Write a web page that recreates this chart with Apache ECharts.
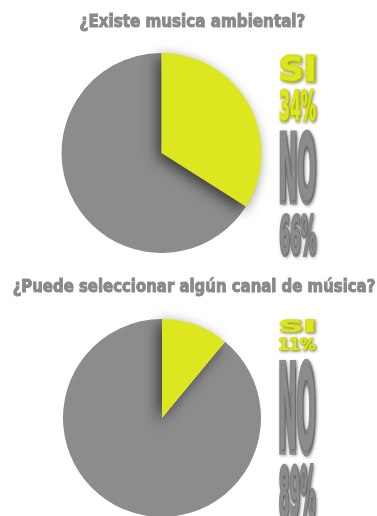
<!DOCTYPE html>
<html>
<head>
<meta charset="utf-8">
<script src="https://cdn.jsdelivr.net/npm/echarts@6/dist/echarts.min.js"></script>
<style>
  html, body { margin: 0; padding: 0; background: #ffffff; }
  #chart { width: 377px; height: 516px; }
</style>
</head>
<body>
<div id="chart"></div>
<script>
// Survey answers, one pie per question
const QUESTIONS = ['¿Existe musica ambiental?', '¿Puede seleccionar algún canal de música?'];
const ANSWERS = ['SI', 'NO'];
const SI_VALUES = [34, 11];
const NO_VALUES = [66, 89];

// Styling
const YELLOW = '#dce71f';
const GRAY = '#8c8c8c';
const TITLE_GRAY = '#898989';
const FONT_FAMILY = '"DejaVu Sans Condensed", "Liberation Sans Narrow", "DejaVu Sans", sans-serif';
const FONT_WEIGHT = 'bold';
const BASE_SIZE = 40;

// Pie geometry and title boxes (ink extents, pixels)
const PIES = [
  { cx: 161.5, cy: 153, r: 100 },
  { cx: 162, cy: 418, r: 99 }
];
const TITLES = [
  { left: 80, width: 225, capTop: 12.5, capH: 14.5 },
  { left: 13, width: 362, capTop: 277.5, capH: 14.5 }
];
const TITLE_STROKE = 2.2;
const LABEL_STROKE = 4;
const LABEL_LEFT_GAP = 18;
const LABEL_WIDTH = 37;
const LABEL_GAP = 4;
const NAME_SHARE = [0.47, 0.63];
const MIN_ROW = 14;

const measureCtx = document.createElement('canvas').getContext('2d');
function inkBox(text) {
  measureCtx.font = FONT_WEIGHT + ' ' + BASE_SIZE + 'px ' + FONT_FAMILY;
  measureCtx.textBaseline = 'middle';
  measureCtx.textAlign = 'left';
  const m = measureCtx.measureText(text);
  return {
    left: m.actualBoundingBoxLeft,
    right: m.actualBoundingBoxRight,
    ascent: m.actualBoundingBoxAscent,
    descent: m.actualBoundingBoxDescent
  };
}

// Text element stretched so that its ink (fill plus outline) fills
// [x0, x0+w] horizontally and the reference glyph's ink fills [y0, y0+h].
function stretchedText(text, x0, y0, w, h, color, refGlyph, lw, shadow) {
  const b = inkBox(text);
  const v = refGlyph ? inkBox(refGlyph) : b;
  const half = lw / 2;
  const sx = w / (b.left + b.right + lw);
  const sy = h / (v.ascent + v.descent + lw);
  const style = {
    text: text,
    fontFamily: FONT_FAMILY,
    fontWeight: FONT_WEIGHT,
    fontSize: BASE_SIZE,
    fill: color,
    stroke: color,
    lineWidth: lw,
    align: 'left',
    verticalAlign: 'middle'
  };
  if (shadow) {
    style.textShadowColor = 'rgba(0,0,0,0.35)';
    style.textShadowBlur = 3;
    style.textShadowOffsetX = 1;
    style.textShadowOffsetY = 1;
  }
  return {
    type: 'text',
    x: x0 + (b.left + half) * sx,
    y: y0 + (v.ascent + half) * sy,
    scaleX: sx,
    scaleY: sy,
    silent: true,
    style: style
  };
}

const graphics = [];

// Question titles
QUESTIONS.forEach(function (q, i) {
  const t = TITLES[i];
  graphics.push(stretchedText(q, t.left, t.capTop, t.width, t.capH, TITLE_GRAY, 'E', TITLE_STROKE, false));
});

// Answer captions beside each pie, heights proportional to the shares
PIES.forEach(function (p, i) {
  const total = SI_VALUES[i] + NO_VALUES[i];
  const avail = 2 * p.r + 5 - 3 * LABEL_GAP;
  const siBlock = avail * SI_VALUES[i] / total;
  const siName = Math.max(MIN_ROW, siBlock * NAME_SHARE[0]);
  const siPct = Math.max(MIN_ROW, siBlock * (1 - NAME_SHARE[0]));
  const noBlock = avail - siName - siPct;
  const noName = noBlock * NAME_SHARE[1];
  const noPct = noBlock - noName;
  const x0 = p.cx + p.r + LABEL_LEFT_GAP;
  let y = p.cy - p.r;
  const rows = [
    [ANSWERS[0], siName, YELLOW],
    [SI_VALUES[i] + '%', siPct, YELLOW],
    [ANSWERS[1], noName, GRAY],
    [NO_VALUES[i] + '%', noPct, GRAY]
  ];
  rows.forEach(function (row) {
    graphics.push(stretchedText(row[0], x0, y, LABEL_WIDTH, row[1], row[2], null, LABEL_STROKE, true));
    y += row[1] + LABEL_GAP;
  });
});

const chart = echarts.init(document.getElementById('chart'), null, { renderer: 'canvas' });
chart.setOption({
  backgroundColor: '#ffffff',
  animation: false,
  graphic: { elements: graphics },
  series: PIES.map(function (p, i) {
    const total = SI_VALUES[i] + NO_VALUES[i];
    return {
      type: 'pie',
      center: [p.cx, p.cy],
      radius: p.r,
      clockwise: true,
      // the SI slice starts at twelve o'clock and runs clockwise
      startAngle: 90 - SI_VALUES[i] / total * 360 + 360,
      silent: true,
      label: { show: false },
      labelLine: { show: false },
      itemStyle: { borderWidth: 0 },
      data: [
        { name: ANSWERS[1], value: NO_VALUES[i], itemStyle: { color: GRAY } },
        {
          name: ANSWERS[0], value: SI_VALUES[i],
          itemStyle: {
            color: YELLOW,
            shadowColor: 'rgba(0,0,0,0.6)',
            shadowBlur: 14,
            shadowOffsetX: -4,
            shadowOffsetY: 4
          }
        }
      ]
    };
  })
});
</script>
</body>
</html>
